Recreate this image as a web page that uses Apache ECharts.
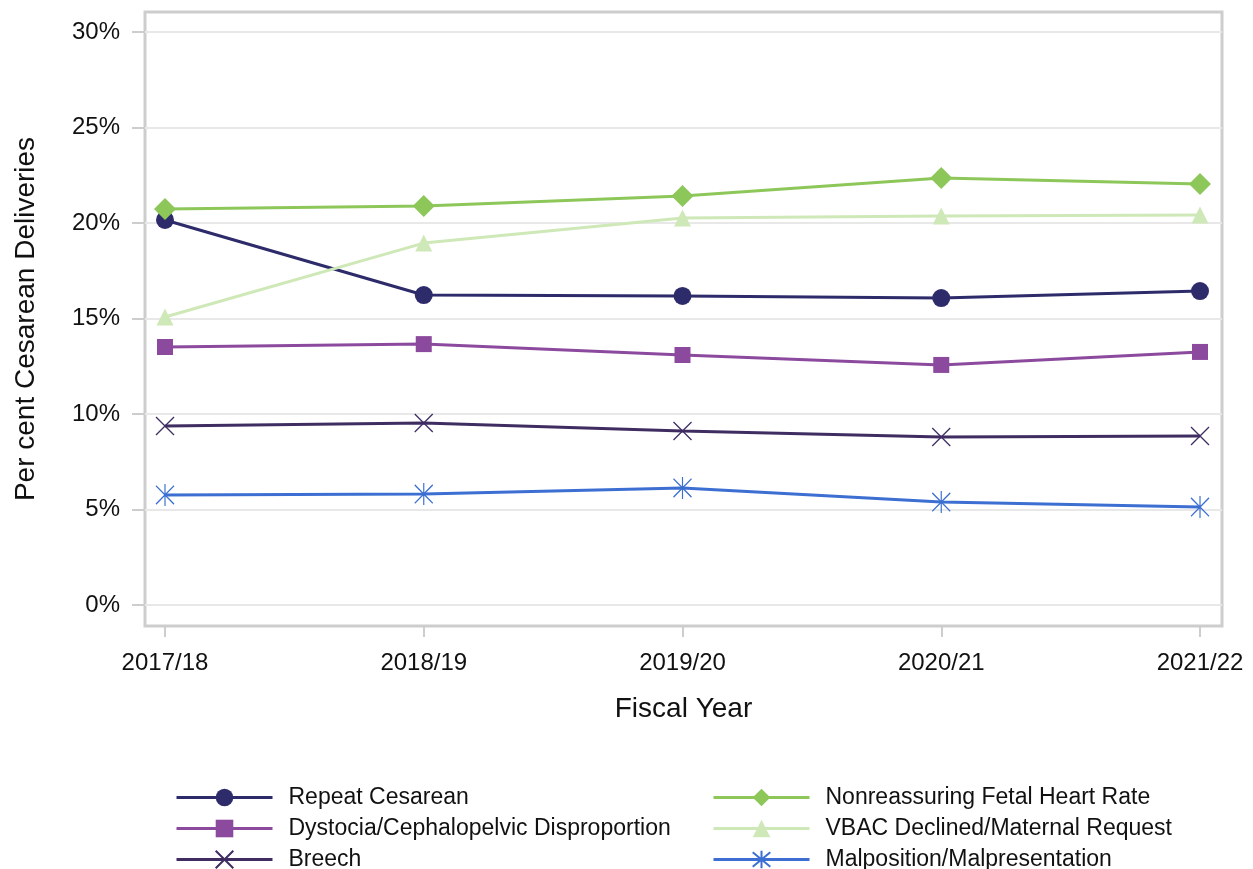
<!DOCTYPE html>
<html>
<head>
<meta charset="utf-8">
<script src="https://cdn.jsdelivr.net/npm/echarts@6/dist/echarts.min.js"></script>
<style>
html,body{margin:0;padding:0;background:#fff;}
#chart{width:1253px;height:869px;}
</style>
</head>
<body>
<div id="chart"></div>
<script>
var years = ['2017/18', '2018/19', '2019/20', '2020/21', '2021/22'];
var yTicks = [0, 5, 10, 15, 20, 25, 30];
var repeatCesarean = [20.16, 16.23, 16.18, 16.07, 16.44];
var nonreassuring = [20.73, 20.89, 21.41, 22.36, 22.04];
var dystocia = [13.51, 13.66, 13.09, 12.57, 13.25];
var vbacDeclined = [15.08, 18.95, 20.26, 20.37, 20.42];
var breech = [9.37, 9.53, 9.11, 8.80, 8.85];
var malposition = [5.76, 5.81, 6.13, 5.39, 5.13];

var crossPath = 'path://M0,0L10,10M10,0L0,10';
var starPath = 'path://M0,1L10,11M10,1L0,11M5,0L5,12';

function pts(arr){
	var out = [];
	for(var i=0;i<arr.length;i++){
		out.push([i, arr[i]]);
	}
	return out;
}

function mkSeries(name, arr, color, symbol, size, outline){
	var s = {
		name : name,
		type : 'line',
		data : pts(arr),
		symbol : symbol,
		symbolSize : size,
		color : color,
		lineStyle : { color: color, width: 3 },
		itemStyle : { color: color },
		emphasis : { disabled: true },
		animation : false
	};
	if(outline){
		//线形标记只描边
		s.itemStyle = { color: 'rgba(0,0,0,0)', borderColor: color, borderWidth: 1.3 };
	}
	return s;
}

var chart = echarts.init(document.getElementById('chart'));
var font = 'Liberation Sans, Arial, sans-serif';
var legendText = { fontSize: 23, lineHeight: 22, color: '#111', fontFamily: font, padding: [0,0,0,11] };
var option = {
	backgroundColor : '#fff',
	textStyle : { fontFamily: font },
	grid : {
		left : 145, right : 31, top : 12, bottom : 243,
		show : true, borderColor : '#cdcdcd', borderWidth : 3
	},
	xAxis : {
		type : 'value',
		min : -0.0773, max : 4.085,
		axisLine : { show: false, onZero: false },
		splitLine : { show: false },
		axisTick : { show: true, length: 11, customValues: [0,1,2,3,4], lineStyle: { color: '#cdcdcd', width: 2 } },
		axisLabel : {
			customValues : [0,1,2,3,4],
			margin : 25, fontSize : 24, color : '#111', fontFamily : font,
			formatter : function(v){ return years[Math.round(v)]; }
		},
		name : 'Fiscal Year',
		nameLocation : 'middle',
		nameGap : 69,
		nameTextStyle : { fontSize: 28, color: '#111', fontFamily: font }
	},
	yAxis : {
		type : 'value',
		min : -1.1, max : 31.05,
		axisLine : { show: false, onZero: false },
		axisTick : { show: true, length: 13, customValues: yTicks, lineStyle: { color: '#cdcdcd', width: 2 } },
		splitLine : { show: true, lineStyle: { color: '#e8e8e8', width: 2 } },
		axisLabel : {
			customValues : yTicks,
			margin : 25, fontSize : 24, color : '#111', fontFamily : font,
			formatter : function(v){ return Math.round(v) + '%'; }
		},
		name : 'Per cent Cesarean Deliveries',
		nameLocation : 'middle',
		nameGap : 105,
		nameTextStyle : { fontSize: 28, color: '#111', fontFamily: font }
	},
	legend : [{
		orient : 'vertical',
		left : 175, top : 786, height : 120, padding : 0,
		itemWidth : 96, itemHeight : 22, itemGap : 8,
		lineStyle : { width: 3 },
		data : ['Repeat Cesarean', 'Dystocia/Cephalopelvic Disproportion', 'Breech'],
		textStyle : legendText
	}, {
		orient : 'vertical',
		left : 712, top : 786, height : 120, padding : 0,
		itemWidth : 96, itemHeight : 22, itemGap : 8,
		lineStyle : { width: 3 },
		data : ['Nonreassuring Fetal Heart Rate', 'VBAC Declined/Maternal Request', 'Malposition/Malpresentation'],
		textStyle : legendText
	}],
	series : [
		mkSeries('Breech', breech, '#3f2d62', crossPath, 18, true),
		mkSeries('Malposition/Malpresentation', malposition, '#3c6fd1', starPath, [18, 22], true),
		mkSeries('Dystocia/Cephalopelvic Disproportion', dystocia, '#8c4a9e', 'rect', 16, false),
		mkSeries('Repeat Cesarean', repeatCesarean, '#2e2b6b', 'circle', 18, false),
		mkSeries('VBAC Declined/Maternal Request', vbacDeclined, '#cfe8b8', 'triangle', 17, false),
		mkSeries('Nonreassuring Fetal Heart Rate', nonreassuring, '#8dc75a', 'diamond', 22, false)
	]
};
chart.setOption(option);
</script>
</body>
</html>
